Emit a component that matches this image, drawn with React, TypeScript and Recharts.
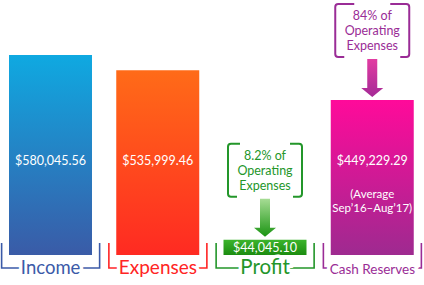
import React from "react";
import { BarChart, Bar, XAxis, YAxis, Cell, LabelList } from "recharts";

const categories = ["Income", "Expenses", "Profit", "Cash Reserves"];
const amounts = [580045.56, 535999.46, 44045.1, 449229.29];
const amountLabels = ["$580,045.56", "$535,999.46", "$44,045.10", "$449,229.29"];
const notes = [[], [], [], ["(Average", "Sep\u201916\u2013Aug\u201917)"]];
const callouts = [
    null,
    null,
    ["8.2% of", "Operating", "Expenses"],
    ["84% of", "Operating", "Expenses"],
];

const data = categories.map((name, i) => ({ name, amount: amounts[i], idx: i }));

const styles = [
    { top: "#0fa9e1", bottom: "#3a5ba7", ink: "#3b5aa8", size: 18.5 },
    { top: "#ff6b18", bottom: "#ff2a22", ink: "#ff2424", size: 19 },
    { top: "#3cb42c", bottom: "#1c8c10", ink: "#23962a", size: 20.5 },
    { top: "#ff0a9a", bottom: "#9e2a90", ink: "#9a2c96", size: 13.5 },
];

const FONT = "Lato, 'Open Sans', sans-serif";

const BracketTick = ({ x, y, payload, index }: any) => {
    const s = styles[index];
    const half = 49;
    const top = y - 12;
    const mid = y + 13;
    return (
        <g>
            <path
                d={`M${x - half},${top} V${mid} H${x + half} V${top}`}
                fill="none"
                stroke={s.ink}
                strokeWidth={1.6}
            />
            <text
                x={x}
                y={y + 19}
                textAnchor="middle"
                fontFamily={FONT}
                fontSize={s.size}
                fill={s.ink}
                stroke="#fff"
                strokeWidth={7}
                paintOrder="stroke"
            >
                {payload.value}
            </text>
        </g>
    );
};

const ValueLabel = ({ x, y, width, height, value }: any) => {
    const i = Number(value);
    const cx = x + width / 2;
    const bottom = y + height;
    if (i === 2) {
        return (
            <text x={cx} y={bottom - 3} textAnchor="middle" fontFamily={FONT} fontSize={12.5} fill="#fff">
                {amountLabels[i]}
            </text>
        );
    }
    return (
        <g fontFamily={FONT} fill="#fff" textAnchor="middle">
            <text x={cx} y={bottom - 90} fontSize={12.5}>
                {amountLabels[i]}
            </text>
            {notes[i].map((line, k) => (
                <text key={k} x={cx} y={bottom - 57 + k * 14} fontSize={11.5}>
                    {line}
                </text>
            ))}
        </g>
    );
};

const Callout = ({ x, y, width, value }: any) => {
    const i = Number(value);
    const lines = callouts[i];
    if (!lines) return null;
    const ink = styles[i].ink;
    const cx = x + width / 2;
    const tip = y - 3;
    const arrowTop = tip - 38;
    const B = arrowTop - 2;
    const T = B - 53;
    const L = cx - 37;
    const R = cx + 37;
    const r = 3;
    const tabTop = i === 3 ? 19 : 12;
    const tabBot = 9;
    const frame =
        `M${L + tabTop},${T} H${L + r} Q${L},${T} ${L},${T + r} V${B - r} Q${L},${B} ${L + r},${B} H${L + tabBot} ` +
        `M${R - tabTop},${T} H${R - r} Q${R},${T} ${R},${T + r} V${B - r} Q${R},${B} ${R - r},${B} H${R - tabBot}`;
    const arrow = `M${cx - 5},${arrowTop} V${tip - 9} H${cx - 11} L${cx},${tip} L${cx + 11},${tip - 9} H${cx + 5} V${arrowTop} Z`;
    return (
        <g>
            <path d={frame} fill="none" stroke={ink} strokeWidth={2} />
            {lines.map((line, k) => (
                <text
                    key={k}
                    x={cx}
                    y={T + 16 + k * 15}
                    textAnchor="middle"
                    fontFamily={FONT}
                    fontSize={12.5}
                    fill={ink}
                >
                    {line}
                </text>
            ))}
            <path d={arrow} fill={`url(#arrow${i})`} />
        </g>
    );
};

export default function App() {
    return (
        <div>
            <style>{"body{margin:0}"}</style>
            <BarChart
                width={424}
                height={285}
                data={data}
                margin={{ top: 55, right: -2, left: -3, bottom: 0 }}
            >
                <defs>
                    {styles.map((s, i) => (
                        <linearGradient key={i} id={`bar${i}`} x1="0" y1="0" x2="0" y2="1">
                            <stop offset="0%" stopColor={s.top} />
                            <stop offset="100%" stopColor={s.bottom} />
                        </linearGradient>
                    ))}
                    <linearGradient id="arrow2" x1="0" y1="0" x2="0" y2="1">
                        <stop offset="0%" stopColor="#a6dc94" />
                        <stop offset="100%" stopColor="#1a9412" />
                    </linearGradient>
                    <linearGradient id="arrow3" x1="0" y1="0" x2="0" y2="1">
                        <stop offset="0%" stopColor="#e23ca2" />
                        <stop offset="100%" stopColor="#a42a96" />
                    </linearGradient>
                </defs>
                <YAxis hide domain={[0, "dataMax"]} />
                <XAxis
                    dataKey="name"
                    axisLine={false}
                    tickLine={false}
                    tickSize={0}
                    tickMargin={0}
                    height={30}
                    interval={0}
                    tick={<BracketTick />}
                />
                <Bar dataKey="amount" barSize={83} isAnimationActive={false}>
                    {data.map((d, i) => (
                        <Cell key={d.name} fill={`url(#bar${i})`} />
                    ))}
                    <LabelList dataKey="idx" content={<ValueLabel />} />
                    <LabelList dataKey="idx" content={<Callout />} />
                </Bar>
            </BarChart>
        </div>
    );
}
